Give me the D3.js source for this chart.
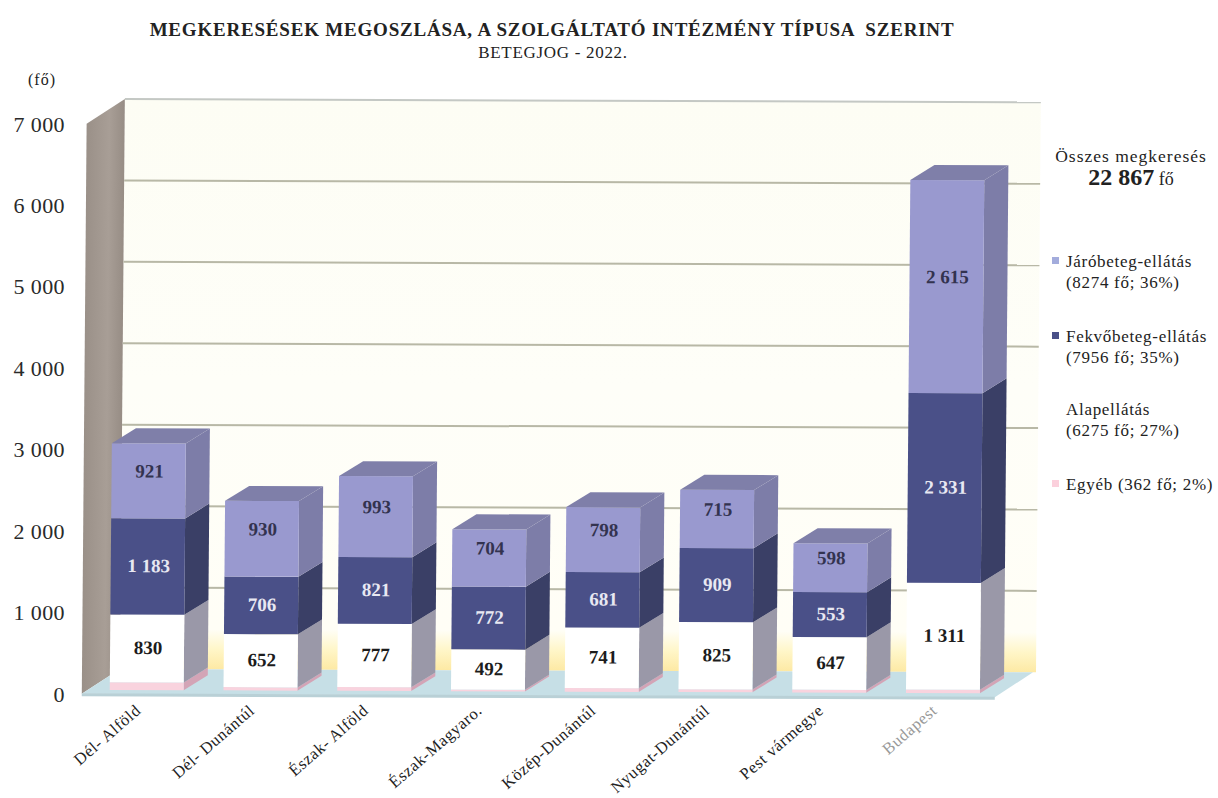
<!DOCTYPE html>
<html><head><meta charset="utf-8">
<script src="https://cdn.jsdelivr.net/npm/d3@7/dist/d3.min.js"></script>
<style>html,body{margin:0;background:#fff}svg{display:block}text{font-family:"Liberation Serif",serif;fill:#222}</style>
</head><body><svg id="c" width="1218" height="798"></svg>
<script>
const categories=["Dél- Alföld","Dél- Dunántúl","Észak- Alföld","Észak-Magyaro.","Közép-Dunántúl","Nyugat-Dunántúl","Pest vármegye","Budapest"];
const egyeb=[96,40,46,22,46,35,35,42];
const alapellatas=[830,652,777,492,741,825,647,1311];
const fekvobeteg=[1183,706,821,772,681,909,553,2331];
const jarobeteg=[921,930,993,704,798,715,598,2615];
const seriesNames=["egyeb","alapellatas","fekvobeteg","jarobeteg"];
const yTicks=[0,1000,2000,3000,4000,5000,6000,7000];
const legendLines=[["Járóbeteg-ellátás","(8274 fő; 36%)"],["Fekvőbeteg-ellátás","(7956 fő; 35%)"],["Alapellátás","(6275 fő; 27%)"],["Egyéb (362 fő; 2%)"]];

const svg=d3.select("#c");
const fmtAxis=d3.formatLocale({decimal:",",thousands:" ",grouping:[3],currency:["",""]}).format(",");
const y=d3.scaleLinear().domain([0,7000]).range([690,120]);
const x=d3.scaleBand().domain(categories).range([90,1000]).paddingInner(.35).paddingOuter(.175);
const table=categories.map((c,i)=>({c,egyeb:egyeb[i],alapellatas:alapellatas[i],fekvobeteg:fekvobeteg[i],jarobeteg:jarobeteg[i]}));
const stack=d3.stack().keys(seriesNames)(table);
const front={egyeb:"#f9d3de",alapellatas:"#ffffff",fekvobeteg:"#4a5088",jarobeteg:"#9999cf"};
const side={egyeb:"#d3a4b6",alapellatas:"#9a98a8",fekvobeteg:"#3a3f66",jarobeteg:"#7d7da8"};
const txtCol={egyeb:"#000",alapellatas:"#1c1c1c",fekvobeteg:"#e8e8f2",jarobeteg:"#33334f"};
const labelShift={alapellatas:-1,fekvobeteg:-1,jarobeteg:-10};
const D=24,H=15, wallDx=38,wallDy=25,wallOff=21;

const defs=svg.append("defs");
const g1=defs.append("linearGradient").attr("id","wall").attr("x1",0).attr("x2",0).attr("y1",0).attr("y2",1);
[[0,"#fdfdf4"],[.5,"#fefef8"],[.93,"#fffef6"],[.965,"#fff6c8"],[1,"#fde9a4"]].forEach(s=>g1.append("stop").attr("offset",s[0]).attr("stop-color",s[1]));
const g2=defs.append("linearGradient").attr("id","lw").attr("x1",0).attr("x2",1).attr("y1",0).attr("y2",0);
[[0,"#9a9088"],[.6,"#a89e96"],[1,"#978d85"]].forEach(s=>g2.append("stop").attr("offset",s[0]).attr("stop-color",s[1]));

// slight scan skew of the printed chart
const plot=svg.append("g").attr("transform",`matrix(1,0.0037,-0.0085,1,${0.0085*669},${-0.0037*125})`);
const bx=120,rx=1033;
const yb=v=>y(v)-wallOff, yf=v=>y(v)+4;
plot.append("rect").attr("x",bx).attr("y",yb(7000)).attr("width",rx-bx+3).attr("height",yb(0)-yb(7000)).attr("fill","url(#wall)");
plot.append("polygon").attr("points",[[bx-wallDx,yf(7000)],[bx,yb(7000)],[bx,yb(0)],[bx-wallDx,yf(0)]].join(" ")).attr("fill","url(#lw)");
plot.append("polygon").attr("points",[[bx-wallDx,yf(0)],[bx,yb(0)],[rx,yb(0)],[rx-wallDx,yf(0)]].join(" ")).attr("fill","#c6dfe6");
plot.append("line").attr("x1",bx-wallDx).attr("x2",rx-wallDx).attr("y1",yf(0)+1).attr("y2",yf(0)+1).attr("stroke","#b9d0d6").attr("stroke-width",3);
plot.selectAll(".grid").data(yTicks.slice(1)).join("line").attr("class","grid")
 .attr("x1",bx).attr("x2",rx+3).attr("y1",yb).attr("y2",yb).attr("stroke",(d,i)=>d==7000?"#c4c8c4":"#b8b8a6").attr("stroke-width",2);

categories.forEach((c,i)=>{
  const g=plot.append("g");
  const X=x(c),W=x.bandwidth();
  stack.forEach(l=>{
    const [a,b]=l[i];
    g.append("polygon").attr("points",[[X+W,y(a)],[X+W+D,y(a)-H],[X+W+D,y(b)-H],[X+W,y(b)]].join(" ")).attr("fill",side[l.key]);
    g.append("rect").attr("x",X).attr("y",y(b)).attr("width",W).attr("height",y(a)-y(b)).attr("fill",front[l.key]);
  });
  const top=stack[3][i][1];
  g.append("polygon").attr("points",[[X,y(top)],[X+D,y(top)-H],[X+W+D,y(top)-H],[X+W,y(top)]].join(" ")).attr("fill","#7f7fa9");
  stack.slice(1).forEach(l=>{
    const [a,b]=l[i];
    g.append("text").attr("x",X+W/2+1).attr("y",(y(a)+y(b))/2+labelShift[l.key]).attr("dy",".35em").attr("text-anchor","middle")
      .attr("font-size",19).attr("font-weight","bold").style("fill",txtCol[l.key]).text(fmtAxis(l[i].data[l.key]));
  });
});

const ax=svg.append("g").attr("transform","translate(65,4)").call(d3.axisLeft(y).tickValues(yTicks).tickSize(0).tickPadding(0).tickFormat(fmtAxis));
ax.select(".domain").remove();
ax.selectAll("text").style("font-family",'"Liberation Serif",serif').attr("font-size",22).attr("letter-spacing",.4).style("fill","#2a2a2a");

svg.selectAll(".xl").data(categories).join("text").attr("class","xl")
 .attr("transform",d=>`translate(${x(d)+x.bandwidth()/2-5},${712}) rotate(-41)`)
 .attr("text-anchor","end").attr("font-size",16.5).attr("letter-spacing",.6)
 .style("fill",d=>d==="Budapest"?"#999":"#222").text(d=>d);

svg.append("text").attr("x",552).attr("y",36).attr("text-anchor","middle").attr("font-size",19).attr("letter-spacing",.8).attr("font-weight","bold").attr("xml:space","preserve").text("MEGKERESÉSEK MEGOSZLÁSA, A SZOLGÁLTATÓ INTÉZMÉNY TÍPUSA  SZERINT");
svg.append("text").attr("x",553).attr("y",58).attr("text-anchor","middle").attr("font-size",17).attr("letter-spacing",.7).text("BETEGJOG - 2022.");
svg.append("text").attr("x",42).attr("y",85).attr("text-anchor","middle").attr("font-size",16).attr("letter-spacing",1).text("(fő)");

svg.append("text").attr("x",1131).attr("y",162).attr("text-anchor","middle").attr("font-size",17.5).attr("letter-spacing",1).text("Összes megkeresés");
const tot=svg.append("text").attr("x",1131).attr("y",185).attr("text-anchor","middle");
tot.append("tspan").attr("font-size",24).attr("font-weight","bold").text(fmtAxis(d3.sum(egyeb.concat(alapellatas,fekvobeteg,jarobeteg))));
tot.append("tspan").attr("font-size",18).text(" fő");

const legendY=[267,342,415,490];
const swatch=["#a3acdc","#4a5088","#ffffff","#fbd0dc"];
legendLines.forEach((ls,i)=>{
  svg.append("rect").attr("x",1052).attr("y",legendY[i]-10).attr("width",7).attr("height",7).attr("fill",swatch[i]);
  ls.forEach((t,j)=>svg.append("text").attr("x",1066).attr("y",legendY[i]+j*20.5).attr("font-size",17).attr("letter-spacing",.7).text(t));
});
</script></body></html>
